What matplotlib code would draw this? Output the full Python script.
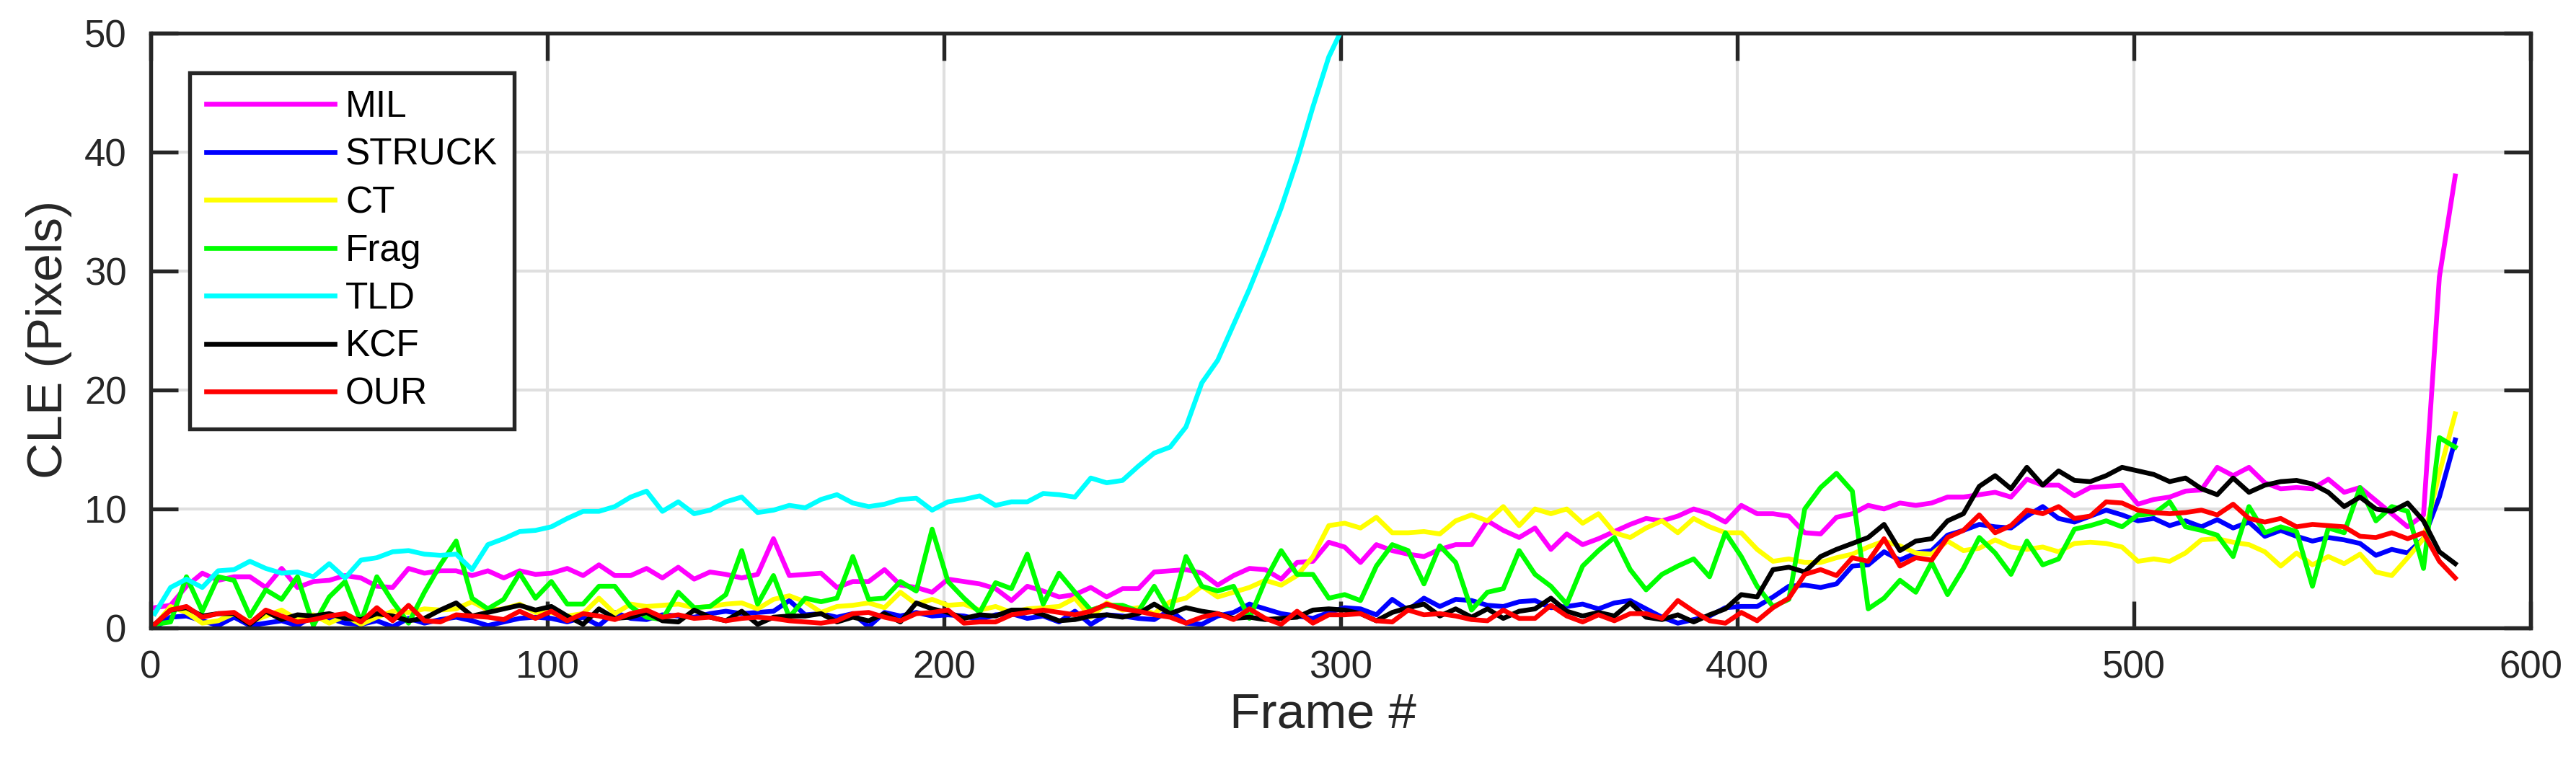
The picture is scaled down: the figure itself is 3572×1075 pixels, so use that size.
import matplotlib
matplotlib.use("Agg")
import matplotlib.pyplot as plt
import numpy as np

plt.rcParams["font.family"] = ["Liberation Sans", "DejaVu Sans"]

# frame index sampled every 4 frames (1 .. 581)
frames = np.arange(1, 582, 4)

mil = [
    1.7, 1.9, 3.5, 4.6, 4.0, 4.3, 4.3, 3.4, 5.0, 3.4, 3.9, 4.0, 4.4, 4.2, 3.5, 3.4, 5.0, 4.6, 4.8, 4.8, 4.4, 4.8, 4.2, 4.8, 4.5,
    4.6, 5.0, 4.4, 5.3, 4.4, 4.4, 5.0, 4.2, 5.1, 4.1, 4.7, 4.5, 4.2, 4.5, 7.5, 4.4, 4.5, 4.6, 3.4, 3.9, 3.9, 4.9, 3.6, 3.4, 3.0,
    4.1, 3.9, 3.7, 3.3, 2.3, 3.5, 3.1, 2.6, 2.8, 3.4, 2.6, 3.3, 3.3, 4.7, 4.8, 4.9, 4.6, 3.6, 4.4, 5.0, 4.9, 4.1, 5.5, 5.6, 7.2,
    6.8, 5.5, 7.0, 6.5, 6.2, 6.0, 6.6, 7.0, 7.0, 9.0, 8.2, 7.6, 8.4, 6.6, 7.9, 7.0, 7.5, 8.1, 8.7, 9.2, 9.0, 9.4, 10.0, 9.6, 8.9,
    10.3, 9.6, 9.6, 9.4, 8.0, 7.9, 9.3, 9.6, 10.3, 10.0, 10.5, 10.3, 10.5, 11.0, 11.0, 11.2, 11.4, 11.0, 12.5, 12.0, 12.0, 11.1, 11.8, 11.9, 12.0,
    10.4, 10.8, 11.0, 11.5, 11.6, 13.5, 12.8, 13.5, 12.2, 11.7, 11.8, 11.7, 12.5, 11.4, 11.8, 10.7, 9.6, 8.5, 9.5, 29.5, 38.0,
]

struck = [
    0.0, 0.9, 1.0, 0.6, 0.2, 0.9, 0.2, 0.4, 0.6, 0.2, 1.0, 0.8, 0.4, 0.3, 0.6, 0.1, 0.8, 0.4, 0.7, 0.9, 0.6, 0.2, 0.5, 0.8, 0.9,
    0.8, 0.5, 0.9, 0.2, 1.3, 0.8, 0.7, 1.1, 1.0, 0.9, 1.2, 1.4, 1.2, 1.3, 1.4, 2.3, 1.1, 1.2, 0.9, 1.2, 0.1, 1.3, 1.0, 1.3, 1.0,
    1.1, 1.0, 0.7, 1.1, 1.2, 0.8, 1.0, 0.5, 1.4, 0.3, 1.1, 1.0, 0.8, 0.7, 1.5, 0.4, 0.3, 1.0, 1.3, 2.0, 1.6, 1.2, 1.0, 0.8, 1.3,
    1.7, 1.6, 1.1, 2.4, 1.5, 2.5, 1.8, 2.4, 2.3, 1.9, 1.8, 2.2, 2.3, 1.7, 1.8, 2.0, 1.6, 2.1, 2.3, 1.6, 0.9, 0.4, 0.7, 1.0, 1.7,
    1.8, 1.8, 2.6, 3.5, 3.6, 3.4, 3.7, 5.2, 5.3, 6.4, 5.7, 6.3, 6.5, 7.8, 8.2, 8.7, 8.5, 8.4, 9.4, 10.2, 9.2, 8.9, 9.4, 9.9, 9.5,
    9.0, 9.2, 8.6, 9.0, 8.5, 9.1, 8.4, 8.9, 7.7, 8.2, 7.7, 7.3, 7.6, 7.4, 7.1, 6.1, 6.6, 6.3, 7.5, 11.0, 15.8,
]

ct = [
    0.2, 1.8, 1.3, 0.4, 0.6, 1.2, 0.5, 1.0, 1.5, 0.7, 1.1, 0.4, 1.0, 0.3, 0.9, 1.4, 1.3, 1.6, 1.5, 1.6, 2.2, 1.5, 1.6, 2.0, 1.3,
    1.3, 1.0, 1.2, 2.5, 1.2, 2.0, 1.8, 1.9, 2.0, 1.7, 1.8, 2.0, 2.1, 1.6, 2.4, 2.7, 2.2, 1.3, 1.8, 1.9, 2.1, 1.7, 3.0, 2.0, 2.4,
    1.9, 2.0, 1.5, 1.8, 1.3, 1.6, 1.7, 1.8, 2.5, 0.9, 2.1, 1.5, 1.7, 1.2, 2.2, 2.5, 3.5, 2.6, 3.0, 3.4, 4.0, 3.6, 4.4, 6.0, 8.6,
    8.8, 8.4, 9.3, 8.0, 8.0, 8.1, 7.9, 9.0, 9.5, 9.0, 10.2, 8.6, 10.0, 9.6, 10.0, 8.8, 9.6, 8.0, 7.6, 8.4, 9.0, 8.0, 9.2, 8.5, 8.0,
    8.0, 6.6, 5.6, 5.8, 5.5, 5.5, 5.9, 6.2, 6.8, 7.3, 6.9, 6.3, 6.2, 7.3, 6.5, 6.7, 7.4, 6.8, 6.6, 6.8, 6.4, 7.1, 7.2, 7.1, 6.8,
    5.6, 5.8, 5.6, 6.3, 7.4, 7.5, 7.2, 7.0, 6.4, 5.2, 6.3, 5.3, 6.0, 5.4, 6.2, 4.7, 4.4, 5.9, 7.5, 13.0, 18.0,
]

frag = [
    0.3, 0.5, 4.3, 1.4, 4.3, 4.0, 1.0, 3.2, 2.4, 4.3, 0.2, 2.6, 3.9, 0.5, 4.3, 2.2, 0.4, 3.0, 5.3, 7.3, 2.5, 1.6, 2.4, 4.6, 2.5,
    3.9, 2.0, 2.0, 3.5, 3.5, 1.8, 0.9, 0.7, 3.0, 1.7, 1.8, 2.8, 6.5, 2.0, 4.4, 0.9, 2.5, 2.2, 2.5, 6.0, 2.4, 2.5, 3.9, 3.1, 8.3,
    3.9, 2.5, 1.3, 3.8, 3.3, 6.2, 2.0, 4.6, 3.0, 1.5, 1.9, 1.9, 1.4, 3.5, 1.2, 6.0, 3.5, 3.1, 3.5, 0.8, 4.0, 6.5, 4.5, 4.5, 2.5,
    2.8, 2.3, 5.2, 7.0, 6.5, 3.7, 6.9, 5.5, 1.5, 3.0, 3.3, 6.5, 4.5, 3.5, 2.0, 5.2, 6.5, 7.6, 4.9, 3.2, 4.5, 5.2, 5.8, 4.3, 8.0,
    6.0, 3.5, 1.8, 2.4, 10.0, 11.8, 13.0, 11.5, 1.6, 2.5, 4.0, 3.0, 5.5, 2.8, 5.0, 7.6, 6.3, 4.5, 7.3, 5.3, 5.8, 8.3, 8.6, 9.0, 8.5,
    9.5, 9.6, 10.6, 8.5, 8.2, 7.8, 6.0, 10.2, 8.0, 8.5, 8.1, 3.5, 8.4, 8.0, 11.8, 9.0, 10.2, 9.8, 5.0, 16.0, 15.2,
]

# TLD leaves the plot (above 50) shortly after frame 300
tld = [
    1.2, 3.4, 4.1, 3.4, 4.8, 4.9, 5.6, 5.0, 4.6, 4.7, 4.3, 5.4, 4.2, 5.7, 5.9, 6.4, 6.5, 6.2, 6.1, 6.2, 4.9, 7.0, 7.5, 8.1, 8.2,
    8.5, 9.2, 9.8, 9.8, 10.2, 11.0, 11.5, 9.8, 10.6, 9.6, 9.9, 10.6, 11.0, 9.7, 9.9, 10.3, 10.1, 10.8, 11.2, 10.5, 10.2, 10.4, 10.8, 10.9, 9.9,
    10.6, 10.8, 11.1, 10.3, 10.6, 10.6, 11.3, 11.2, 11.0, 12.6, 12.2, 12.4, 13.6, 14.7, 15.2, 16.9, 20.6, 22.5, 25.5, 28.5, 31.8, 35.3, 39.3, 43.8, 48.0,
    50.8,
]

kcf = [
    0.3, 1.5, 1.7, 1.0, 1.2, 1.2, 0.3, 1.4, 0.7, 1.1, 1.0, 1.2, 0.8, 0.7, 1.2, 1.0, 0.6, 0.8, 1.5, 2.1, 1.0, 1.3, 1.6, 1.9, 1.5,
    1.8, 1.0, 0.3, 1.6, 0.8, 0.9, 1.3, 0.6, 0.5, 1.5, 0.9, 0.6, 1.4, 0.3, 0.9, 1.0, 1.0, 1.2, 0.5, 0.9, 0.6, 1.2, 0.5, 2.1, 1.6,
    1.3, 0.8, 1.1, 1.0, 1.5, 1.5, 1.1, 0.6, 0.7, 1.0, 1.1, 0.9, 1.2, 2.0, 1.2, 1.7, 1.4, 1.2, 0.8, 0.9, 0.7, 0.8, 0.9, 1.5, 1.6,
    1.5, 1.2, 0.6, 1.3, 1.7, 2.0, 1.0, 1.6, 0.9, 1.6, 0.8, 1.4, 1.6, 2.5, 1.4, 1.0, 1.3, 1.0, 2.1, 0.9, 0.7, 1.1, 0.5, 1.1, 1.6,
    2.8, 2.6, 4.9, 5.1, 4.7, 6.0, 6.6, 7.1, 7.6, 8.7, 6.5, 7.3, 7.5, 9.0, 9.6, 11.9, 12.8, 11.7, 13.5, 12.0, 13.2, 12.4, 12.3, 12.8, 13.5,
    13.2, 12.9, 12.3, 12.6, 11.7, 11.2, 12.6, 11.4, 12.0, 12.3, 12.4, 12.1, 11.4, 10.2, 11.0, 10.0, 9.8, 10.5, 9.0, 6.4, 5.4,
]

our = [
    0.3, 1.5, 1.8, 0.9, 1.2, 1.3, 0.4, 1.5, 1.0, 0.5, 0.7, 1.0, 1.2, 0.5, 1.7, 0.6, 1.9, 0.6, 0.5, 1.1, 1.0, 0.9, 0.7, 1.4, 0.8,
    1.4, 0.6, 1.2, 1.0, 0.7, 1.2, 1.5, 0.9, 1.1, 0.8, 0.9, 0.6, 0.8, 0.9, 0.8, 0.6, 0.5, 0.4, 0.6, 1.2, 1.3, 0.9, 0.6, 1.2, 1.3,
    1.5, 0.4, 0.5, 0.5, 1.1, 1.3, 1.5, 1.3, 1.1, 1.4, 2.0, 1.6, 1.4, 1.1, 0.9, 0.4, 0.9, 1.2, 0.7, 1.6, 0.8, 0.3, 1.4, 0.4, 1.1,
    1.1, 1.2, 0.6, 0.5, 1.5, 1.1, 1.2, 1.0, 0.7, 0.6, 1.5, 0.8, 0.8, 1.9, 1.0, 0.5, 1.1, 0.6, 1.2, 1.2, 0.8, 2.3, 1.4, 0.6, 0.4,
    1.3, 0.6, 1.7, 2.5, 4.5, 4.9, 4.4, 5.9, 5.6, 7.5, 5.2, 5.9, 5.7, 7.6, 8.2, 9.5, 8.0, 8.6, 9.9, 9.6, 10.2, 9.2, 9.4, 10.6, 10.5,
    9.9, 9.7, 9.6, 9.7, 9.9, 9.5, 10.4, 9.2, 8.9, 9.2, 8.5, 8.7, 8.6, 8.5, 7.7, 7.6, 8.0, 7.5, 8.0, 5.6, 4.2,
]

series = [
    ("MIL", mil, "#ff00ff"),
    ("STRUCK", struck, "#0000ff"),
    ("CT", ct, "#ffff00"),
    ("Frag", frag, "#00ff00"),
    ("TLD", tld, "#00ffff"),
    ("KCF", kcf, "#000000"),
    ("OUR", our, "#ff0000"),
]

AX_COLOR = "#262626"

fig = plt.figure(figsize=(35.73, 10.75), dpi=100)
ax = fig.add_axes([0.0585, 0.1898, 0.9236, 0.7674])

for name, values, color in series:
    ax.plot(frames[:len(values)], values, color=color, linewidth=4.8, label=name)

ax.set_xlim(0, 600)
ax.set_ylim(0, 50)
ax.set_xticks(np.arange(0, 601, 100))
ax.set_yticks(np.arange(0, 51, 10))
ax.grid(True, color="#dfdfdf", linewidth=3)
ax.set_axisbelow(True)

for spine in ax.spines.values():
    spine.set_color(AX_COLOR)
    spine.set_linewidth(3.9)

ax.tick_params(direction="in", length=27, width=3.9, color=AX_COLOR,
               labelcolor=AX_COLOR, labelsize=38, top=True, right=True)
ax.tick_params(axis="x", pad=22)
ax.tick_params(axis="y", pad=24)

ax.set_xlabel("Frame #", fontsize=50, color=AX_COLOR, labelpad=6, x=0.4927)
ax.set_ylabel("CLE (Pixels)", fontsize=50, color=AX_COLOR, labelpad=12, y=0.485)

leg = ax.legend(loc="upper left", bbox_to_anchor=(0.0164, 0.9333), borderaxespad=0,
                fontsize=37, handlelength=3.45, handletextpad=0.3, labelspacing=0.34,
                borderpad=0.45, fancybox=False, framealpha=1)
leg.get_frame().set_edgecolor(AX_COLOR)
leg.get_frame().set_linewidth(3.9)

fig.savefig("out.png", dpi=100)
